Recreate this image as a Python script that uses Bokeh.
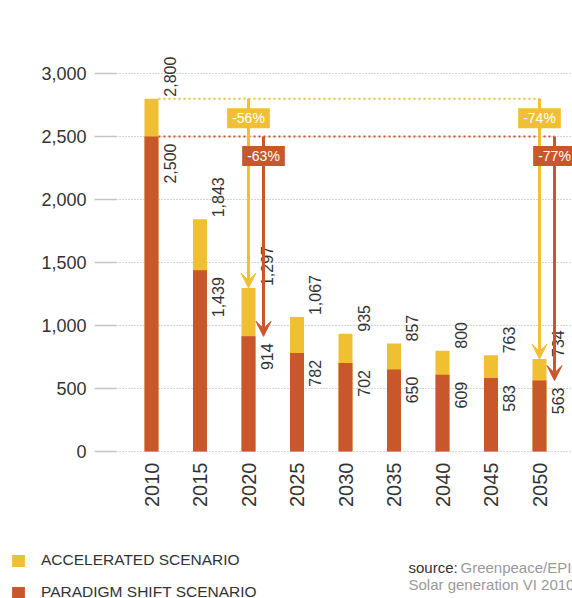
import math
from bokeh.plotting import figure
from bokeh.layouts import column
from bokeh.models import (Range1d, FixedTicker, NumeralTickFormatter, Arrow, VeeHead,
                          Label, Legend, LegendItem, ColumnDataSource)
from bokeh.core.properties import value
from bokeh.embed import file_html
from bokeh.resources import INLINE

# ---- data ----
years = [2010, 2015, 2020, 2025, 2030, 2035, 2040, 2045, 2050]
accelerated = [2800, 1843, 1297, 1067, 935, 857, 800, 763, 734]
paradigm = [2500, 1439, 914, 782, 702, 650, 609, 583, 563]
y_ticks = [0, 500, 1000, 1500, 2000, 2500, 3000]
arrow_years = [2020, 2050]
acc_pct = ["-56%", "-74%"]
par_pct = ["-63%", "-77%"]
series_names = ["ACCELERATED SCENARIO", "PARADIGM SHIFT SCENARIO"]

YELLOW = "#F0BF32"
RED = "#C8572C"
TXT = "#333333"
GREY_TXT = "#9a9a9a"
FONT = "Liberation Sans"

# ---- geometry ----
PX_PER_YEAR = 9.7
PX_PER_UNIT = 0.126
FRAME_W = 456
x_start = years[0] - 35 / PX_PER_YEAR
x_end = x_start + FRAME_W / PX_PER_YEAR
y_start = -2 / PX_PER_UNIT
y_end = 431 / PX_PER_UNIT
bar_w = 14 / PX_PER_YEAR
red_dx = 15 / PX_PER_YEAR

p = figure(width=572, height=530, output_backend="svg", toolbar_location=None,
           x_range=Range1d(x_start, x_end), y_range=Range1d(y_start, y_end),
           min_border_left=116, min_border_right=0, min_border_top=20, min_border_bottom=77)
p.frame_align = False
p.outline_line_color = None
p.background_fill_color = "white"
p.border_fill_color = "white"

# axes
p.yaxis.ticker = FixedTicker(ticks=y_ticks)
p.yaxis.formatter = NumeralTickFormatter(format="0,0")
p.yaxis.axis_line_color = None
p.yaxis.major_tick_out = 22
p.yaxis.major_tick_in = 0
p.yaxis.major_tick_line_color = "#c4c4c4"
p.yaxis.major_tick_line_width = 1.5
p.yaxis.minor_tick_line_color = None
p.yaxis.major_label_standoff = 8
p.yaxis.major_label_text_font = FONT
p.yaxis.major_label_text_font_size = "18px"
p.yaxis.major_label_text_color = TXT

p.xaxis.ticker = FixedTicker(ticks=years)
p.xaxis.axis_line_color = None
p.xaxis.major_tick_line_color = None
p.xaxis.minor_tick_line_color = None
p.xaxis.major_label_orientation = math.pi / 2
p.xaxis.major_label_standoff = 3
p.xaxis.major_label_text_font = FONT
p.xaxis.major_label_text_font_size = "20px"
p.xaxis.major_label_text_color = TXT

p.xgrid.visible = False
p.ygrid.ticker = FixedTicker(ticks=y_ticks)
p.ygrid.grid_line_color = "#aaaaaa"
p.ygrid.grid_line_dash = "1 2"
p.ygrid.grid_line_width = 1

src = ColumnDataSource(dict(
    x=years, acc=accelerated, par=paradigm,
    acc_lbl=[f"{v:,}" for v in accelerated],
    par_lbl=[f"{v:,}" for v in paradigm],
))

r_acc = p.vbar(x="x", top="acc", bottom=0, width=bar_w, source=src,
               fill_color=YELLOW, line_color=None)
r_par = p.vbar(x="x", top="par", bottom=0, width=bar_w, source=src,
               fill_color=RED, line_color=None)

p.text(x="x", y="acc", text="acc_lbl", source=src, angle=math.pi / 2,
       x_offset=18, y_offset=-2, text_align="left", text_baseline="middle",
       text_font=value(FONT), text_font_size="16px", text_color=TXT)
p.text(x="x", y="par", text="par_lbl", source=src, angle=math.pi / 2,
       x_offset=18, y_offset=7, text_align="right", text_baseline="middle",
       text_font=value(FONT), text_font_size="16px", text_color=TXT)

# reference dotted lines
p.segment(x0=[years[0] + bar_w / 2], y0=[accelerated[0]], x1=[years[-1]], y1=[accelerated[0]],
          line_color=YELLOW, line_width=2, line_dash="2 3")
p.segment(x0=[years[0] + bar_w / 2], y0=[paradigm[0]], x1=[years[-1] + red_dx], y1=[paradigm[0]],
          line_color=RED, line_width=2, line_dash="2 3")

# arrows
for yr in arrow_years:
    k = years.index(yr)
    p.add_layout(Arrow(x_start=yr, y_start=accelerated[0], x_end=yr, y_end=accelerated[k],
                       line_color=YELLOW, line_width=3,
                       end=VeeHead(size=15, fill_color=YELLOW, line_color=YELLOW)))
    p.add_layout(Arrow(x_start=yr + red_dx, y_start=paradigm[0], x_end=yr + red_dx, y_end=paradigm[k],
                       line_color=RED, line_width=3,
                       end=VeeHead(size=15, fill_color=RED, line_color=RED)))
for i, yr in enumerate(arrow_years):
    p.add_layout(Label(x=yr, y=accelerated[0], y_offset=-19.5, text=acc_pct[i],
                       text_align="center", text_baseline="middle",
                       text_font=FONT, text_font_size="14px", text_color="white",
                       background_fill_color=YELLOW, padding=dict(left=5, right=5, top=2, bottom=2)))
    p.add_layout(Label(x=yr + red_dx, y=paradigm[0], y_offset=-19.5, text=par_pct[i],
                       text_align="center", text_baseline="middle",
                       text_font=FONT, text_font_size="14px", text_color="white",
                       background_fill_color=RED, padding=dict(left=5, right=5, top=2, bottom=2)))

# ---- legend / source strip ----
p2 = figure(width=572, height=68, output_backend="svg", toolbar_location=None,
            x_range=Range1d(0, 1), y_range=Range1d(0, 1),
            x_axis_type=None, y_axis_type=None,
            min_border_left=0, min_border_right=0, min_border_top=0, min_border_bottom=0)
p2.frame_align = False
p2.outline_line_color = None
p2.xgrid.visible = False
p2.ygrid.visible = False
nan = float("nan")
l_acc = p2.vbar(x=[nan], top=[nan], width=1, fill_color=YELLOW, line_color=None)
l_par = p2.vbar(x=[nan], top=[nan], width=1, fill_color=RED, line_color=None)

legend = Legend(items=[LegendItem(label=series_names[0], renderers=[l_acc]),
                       LegendItem(label=series_names[1], renderers=[l_par])],
                location=(10, -3), orientation="vertical",
                glyph_width=16, glyph_height=15, label_height=15, spacing=14,
                label_standoff=15, padding=0, margin=0,
                border_line_color=None, background_fill_alpha=0,
                label_text_font=FONT, label_text_font_size="15.5px", label_text_color=TXT)
p2.add_layout(legend)

p2.add_layout(Label(x=408, y=31, x_units="screen", y_units="screen", text="source:",
                    text_font=FONT, text_font_size="15px", text_color=TXT, text_baseline="alphabetic"))
p2.add_layout(Label(x=460, y=31, x_units="screen", y_units="screen", text="Greenpeace/EPIA",
                    text_font=FONT, text_font_size="15px", text_color=GREY_TXT, text_baseline="alphabetic"))
p2.add_layout(Label(x=408, y=14, x_units="screen", y_units="screen", text="Solar generation VI 2010",
                    text_font=FONT, text_font_size="15px", text_color=GREY_TXT, text_baseline="alphabetic"))

layout = column(p, p2, spacing=0)
open("out.html", "w").write(file_html(layout, INLINE))
